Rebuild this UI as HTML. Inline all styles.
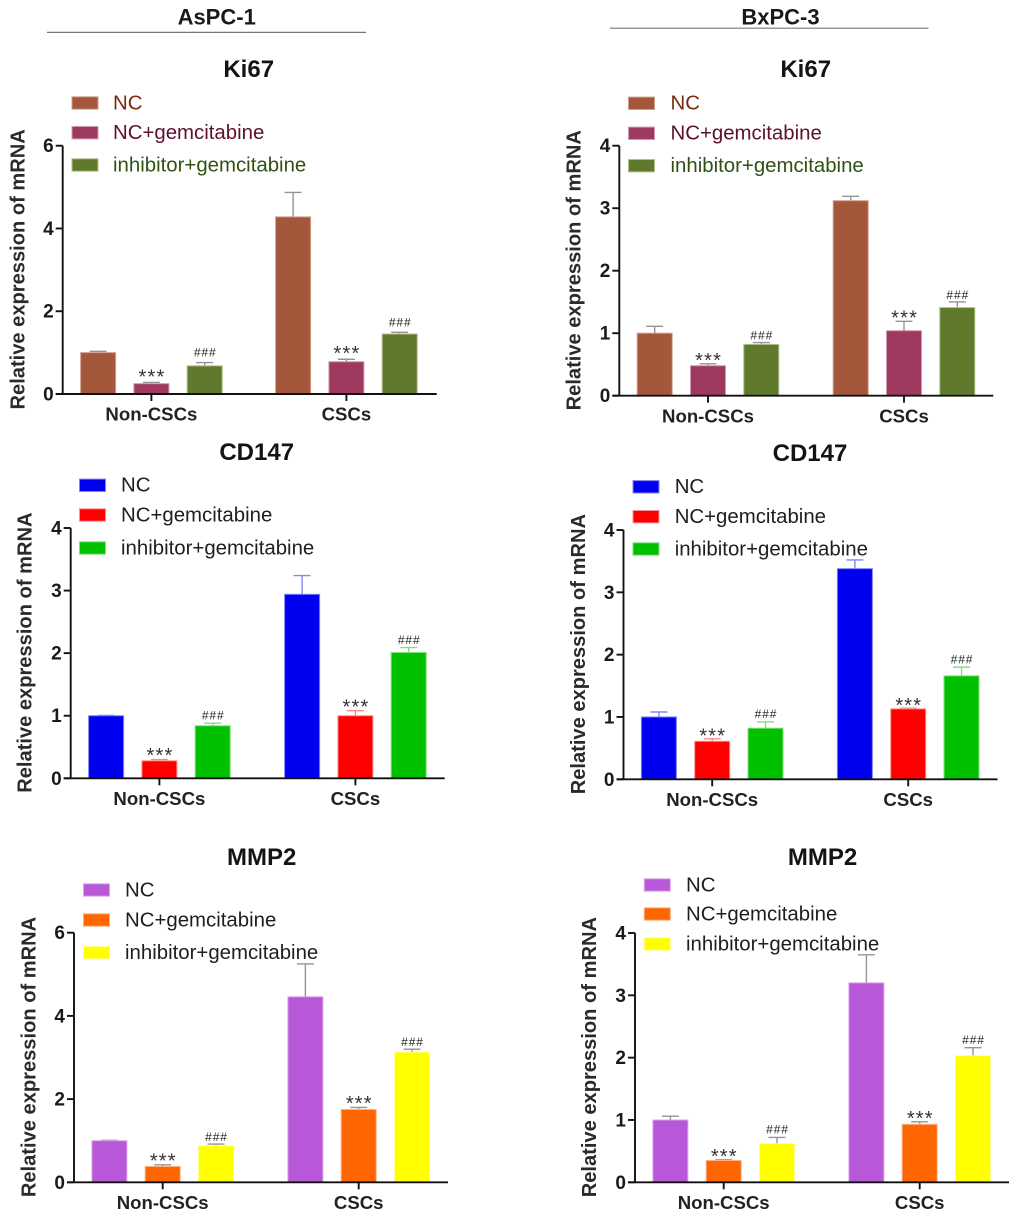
<!DOCTYPE html>
<html lang="en">
<head>
<meta charset="utf-8">
<title>Relative mRNA expression in AsPC-1 and BxPC-3</title>
<style>
html,body{margin:0;padding:0;background:#fff;}
svg{display:block;font-family:"Liberation Sans",Arial,sans-serif;}
</style>
</head>
<body>
<svg id="figure" xmlns="http://www.w3.org/2000/svg" width="1020" height="1219" viewBox="0 0 1020 1219">
  <rect x="0" y="0" width="1020" height="1219" fill="#fff"/>
  <text x="216.7" y="24.5" font-size="22" font-weight="700" text-anchor="middle" fill="#1a1a1a">AsPC-1</text>
  <line x1="47" x2="366" y1="32.4" y2="32.4" stroke="#777" stroke-width="1.2"/>
  <text x="780.5" y="24.5" font-size="22" font-weight="700" text-anchor="middle" fill="#1a1a1a">BxPC-3</text>
  <line x1="610" x2="928.5" y1="28.2" y2="28.2" stroke="#777" stroke-width="1.2"/>
</svg>
<script>
const categories = ['Non-CSCs', 'CSCs'];
const seriesNames = ['NC', 'NC+gemcitabine', 'inhibitor+gemcitabine'];
const sixTicks = [0, 2, 4, 6];
const fourTicks = [0, 1, 2, 3, 4];

const ki67AspcMeans = [1.0, 0.25, 0.68, 4.28, 0.78, 1.45];
const ki67AspcErrors = [0.03, 0.03, 0.08, 0.59, 0.06, 0.04];
const ki67BxpcMeans = [1.0, 0.48, 0.82, 3.12, 1.04, 1.41];
const ki67BxpcErrors = [0.11, 0.03, 0.03, 0.07, 0.15, 0.09];
const cd147AspcMeans = [1.0, 0.28, 0.84, 2.94, 1.0, 2.01];
const cd147AspcErrors = [0.005, 0.02, 0.04, 0.3, 0.08, 0.08];
const cd147BxpcMeans = [1.0, 0.61, 0.82, 3.38, 1.13, 1.66];
const cd147BxpcErrors = [0.08, 0.04, 0.1, 0.14, 0.01, 0.14];
const mmp2AspcMeans = [1.0, 0.38, 0.88, 4.46, 1.75, 3.13];
const mmp2AspcErrors = [0.01, 0.04, 0.04, 0.79, 0.05, 0.07];
const mmp2BxpcMeans = [1.0, 0.35, 0.62, 3.2, 0.93, 2.03];
const mmp2BxpcErrors = [0.06, 0.01, 0.1, 0.45, 0.04, 0.13];

const brownPalette = {fills: ['#a5573c', '#9e3a60', '#5f7a2c'], edges: ['#cf9e8b', '#cf9ab0', '#b0c08c'], errors: ['#949494', '#949494', '#949494'], text: ['#7a2a0e', '#5c1030', '#2f5214']};
const primaryPalette = {fills: ['#0000f0', '#ff0000', '#00c000'], edges: ['#8080f8', '#ff9090', '#80e080'], errors: ['#8585f5', '#f58a8a', '#80e080'], text: ['#1e1e1e', '#1e1e1e', '#1e1e1e']};
const brightPalette = {fills: ['#b858d8', '#ff6600', '#ffff00'], edges: ['#dca8ec', '#ffb080', '#ffff90'], errors: ['#949494', '#949494', '#949494'], text: ['#1e1e1e', '#1e1e1e', '#1e1e1e']};

const panels = [
  {id: 'ki67-aspc1', title: 'Ki67', means: ki67AspcMeans, errors: ki67AspcErrors, ticks: sixTicks, palette: brownPalette,
   axisX: 62.7, top: 145.7, base: 394, gap: 195, titleX: 248.7, titleY: 77, yTitleX: 24.4, legendX: 72, textX: 113, legendY: [103, 132.7, 165], starGap: 4, hashGap: 5.8},
  {id: 'ki67-bxpc3', title: 'Ki67', means: ki67BxpcMeans, errors: ki67BxpcErrors, ticks: fourTicks, palette: brownPalette,
   axisX: 619.3, top: 145.7, base: 395.7, gap: 196, titleX: 805.7, titleY: 77, yTitleX: 580.7, legendX: 628.5, textX: 670.5, legendY: [103.3, 133.3, 165.7], starGap: 1.8, hashGap: 3.2},
  {id: 'cd147-aspc1', title: 'CD147', means: cd147AspcMeans, errors: cd147AspcErrors, ticks: fourTicks, palette: primaryPalette,
   axisX: 70.7, top: 528, base: 778.3, gap: 196, titleX: 256.7, titleY: 460, yTitleX: 31.7, legendX: 79.5, textX: 121, legendY: [485.3, 515, 548], starGap: 2.3, hashGap: 3.5},
  {id: 'cd147-bxpc3', title: 'CD147', means: cd147BxpcMeans, errors: cd147BxpcErrors, ticks: fourTicks, palette: primaryPalette,
   axisX: 623.5, top: 530, base: 779.3, gap: 196, titleX: 810, titleY: 461, yTitleX: 585, legendX: 633, textX: 674.7, legendY: [486.8, 516.7, 549], starGap: 1.3, hashGap: 3.8},
  {id: 'mmp2-aspc1', title: 'MMP2', means: mmp2AspcMeans, errors: mmp2AspcErrors, ticks: sixTicks, palette: brightPalette,
   axisX: 74, top: 932.7, base: 1182.3, gap: 196, titleX: 261.7, titleY: 865, yTitleX: 35.7, legendX: 83.5, textX: 125, legendY: [890, 920, 952.7], starGap: 2.5, hashGap: 3},
  {id: 'mmp2-bxpc3', title: 'MMP2', means: mmp2BxpcMeans, errors: mmp2BxpcErrors, ticks: fourTicks, palette: brightPalette,
   axisX: 635, top: 933, base: 1182.3, gap: 196, titleX: 822.5, titleY: 865, yTitleX: 596, legendX: 644.3, textX: 686, legendY: [885, 914, 944], starGap: 1.7, hashGap: 3.8}
];

const svg = document.getElementById('figure');
const NS = 'http://www.w3.org/2000/svg';

function make(parent, tag, attrs, content) {
  const node = document.createElementNS(NS, tag);
  for (const key in attrs) node.setAttribute(key, attrs[key]);
  if (content !== undefined) node.textContent = content;
  parent.appendChild(node);
  return node;
}

function drawPanel(panel) {
  const group = make(svg, 'g', {});
  
  

  const maxTick = panel.ticks[panel.ticks.length - 1];
  const yScale = value => panel.base - (value / maxTick) * (panel.base - panel.top);
  const groupX = categoryIndex => panel.axisX + 88.7 + categoryIndex * panel.gap;
  const barX = (categoryIndex, seriesIndex) => groupX(categoryIndex) + (seriesIndex - 1) * 53.3;
  const barWidth = 35;

  const chartTitle = make(group, 'text', {x: panel.titleX, y: panel.titleY, 'font-size': 24, 'font-weight': 700, 'text-anchor': 'middle', fill: '#141414'}, panel.title);
  
  

  const yMid = (panel.top + panel.base) / 2 - 0.5;
  const yTitle = make(group, 'text', {x: panel.yTitleX, y: yMid, 'font-size': 20.1, 'font-weight': 700, 'text-anchor': 'middle', fill: '#2a2a2a', transform: 'rotate(-90 ' + panel.yTitleX + ' ' + yMid + ')'}, 'Relative expression of mRNA');
  
  

  panel.means.forEach((mean, index) => {
    const categoryIndex = Math.floor(index / seriesNames.length);
    const seriesIndex = index % seriesNames.length;
    const cx = barX(categoryIndex, seriesIndex);
    const errorTop = yScale(mean + panel.errors[index]);
    const barTop = yScale(mean);

    const errorBar = make(group, 'path', {d: 'M' + cx + ' ' + barTop + 'V' + errorTop + 'M' + (cx - 8.5) + ' ' + errorTop + 'H' + (cx + 8.5), stroke: panel.palette.errors[seriesIndex], 'stroke-width': 1.4, fill: 'none'});
    
    

    const bar = make(group, 'rect', {x: cx - barWidth / 2, y: barTop, width: barWidth, height: panel.base - barTop, fill: panel.palette.fills[seriesIndex], stroke: panel.palette.edges[seriesIndex], 'stroke-width': 1});
    
    

    if (seriesIndex === 1) {
      const stars = make(group, 'text', {x: cx + 0.6, y: errorTop - panel.starGap + 5, 'font-size': 20, 'text-anchor': 'middle', fill: '#333', 'letter-spacing': 1.2}, '***');
      
      
    }
    if (seriesIndex === 2) {
      const hashes = make(group, 'text', {x: cx + 0.5, y: errorTop - panel.hashGap, 'font-size': 12, 'text-anchor': 'middle', fill: '#1e1e1e', 'letter-spacing': 0.9}, '###');
      
      
    }
  });

  const axes = make(group, 'path', {d: 'M' + panel.axisX + ' ' + panel.top + 'V' + panel.base + 'M' + (panel.axisX - 7) + ' ' + panel.base + 'H' + (panel.axisX + 374), stroke: '#111', 'stroke-width': 1.9, fill: 'none'});
  
  

  panel.ticks.forEach(tick => {
    const y = yScale(tick);
    const tickMark = make(group, 'line', {x1: panel.axisX - 7, x2: panel.axisX, y1: y, y2: y, stroke: '#111', 'stroke-width': 1.9});
    
    

    const tickLabel = make(group, 'text', {x: panel.axisX - 9, y: y + 6.5, 'font-size': 19, 'font-weight': 700, 'text-anchor': 'end', fill: '#1a1a1a'}, String(tick));
    
    
  });

  categories.forEach((category, categoryIndex) => {
    const x = groupX(categoryIndex);
    const tickMark = make(group, 'line', {x1: x, x2: x, y1: panel.base, y2: panel.base + 7, stroke: '#111', 'stroke-width': 1.9});
    
    

    const tickLabel = make(group, 'text', {x: x, y: panel.base + 26.7, 'font-size': 18.6, 'font-weight': 700, 'text-anchor': 'middle', fill: '#222'}, category);
    
    
  });

  seriesNames.forEach((name, seriesIndex) => {
    const y = panel.legendY[seriesIndex];
    const swatch = make(group, 'rect', {x: panel.legendX, y: y - 6.2, width: 26, height: 12.4, fill: panel.palette.fills[seriesIndex], stroke: panel.palette.edges[seriesIndex], 'stroke-width': 1});
    
    

    const label = make(group, 'text', {x: panel.textX, y: y + 6.3, 'font-size': 20.4, fill: panel.palette.text[seriesIndex]}, name);
    
    
  });
}

panels.forEach(drawPanel);
</script>
</body>
</html>
